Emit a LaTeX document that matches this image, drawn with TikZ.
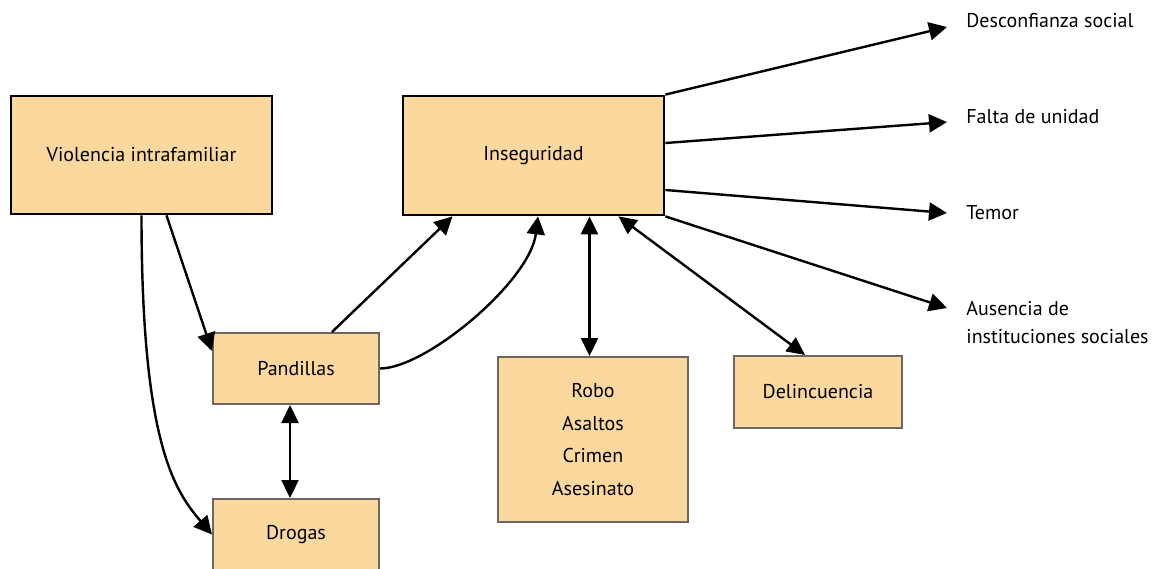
\documentclass[tikz,border=0pt]{standalone}
\usepackage{fontspec}
\setmainfont{PT Sans}
\usetikzlibrary{arrows.meta,calc,positioning}
\definecolor{boxfill}{HTML}{FBD89D}
\definecolor{boxgray}{HTML}{6E6662}
\tikzset{
    every node/.style={font=\fontsize{10}{14}\selectfont},
    mainbox/.style={draw=black,line width=1.4pt,fill=boxfill,minimum width=130.5pt},
    subbox/.style={draw=boxgray,line width=1pt,fill=boxfill,minimum width=83pt,minimum height=35.5pt},
    effect/.style={anchor=west,inner sep=0pt,align=left},
    link/.style={line width=1.2pt,-{Triangle[length=9pt,width=9pt]}},
    twoway/.style={line width=1.2pt,{Triangle[length=9pt,width=8.5pt]}-{Triangle[length=9pt,width=8.5pt]}}
}
\begin{document}
\begin{tikzpicture}[x=0.5pt,y=-0.5pt]
\useasboundingbox (0,0) rectangle (1152,568);
% causes and problem boxes
\node[mainbox,minimum height=59pt] (viol) at (141.5,155) {Violencia intrafamiliar};
\node[mainbox,minimum height=59.5pt] (inseg) at (533.5,155.5) {Inseguridad};
\node[subbox] (pand) at (296,368.5) {Pandillas};
\node[subbox] (drog) at (296,534.5) {Drogas};
\node[subbox,minimum width=95pt,minimum height=82.5pt,align=center,
      font=\fontsize{10}{16.3}\selectfont] (robo) at (593,439.5) {Robo\\Asaltos\\Crimen\\Asesinato};
\node[subbox,minimum width=84pt,minimum height=36pt] (delinc) at (818,392) {Delincuencia};
% effects
\node[effect] (desconf) at (966,21) {Desconfianza social};
\node[effect] (falta) at (966,117) {Falta de unidad};
\node[effect] (temor) at (966,213) {Temor};
\node[effect] (ausencia) at (966,323) {Ausencia de\\instituciones sociales};

\draw[link] (inseg.north east) -- ($(desconf.west)+(-19,6)$);
\draw[link] ($(inseg.east)+(0,-12.5)$) -- ($(falta.west)+(-19,5)$);
\draw[link] ($(inseg.east)+(0,34.5)$) -- ($(temor.west)+(-19,0)$);
\draw[link] (inseg.south east) -- ($(ausencia.west)+(-19,-15)$);

\draw[link] ($(viol.south)+(25,0)$) -- ($(pand.north west)+(0,19)$);
\draw[link] (viol.south) .. controls +(0,226) and +(-38,-44.5) .. (drog.west);
\draw[link] ($(pand.north)+(36,0)$) -- ($(inseg.south)+(-81,0)$);
\draw[link] (pand.east) .. controls +(46,0) and +(-8,65) .. ($(inseg.south)+(4.5,0)$);
\draw[twoway] ($(inseg.south)+(56,0)$) -- ($(robo.north)+(-3.5,0)$);
\draw[twoway] ($(inseg.south)+(85,0)$) -- ($(delinc.north)+(-13,0)$);
\draw[twoway] ($(pand.south)+(-6,0)$) -- ($(drog.north)+(-6,0)$);
\end{tikzpicture}
\end{document}
